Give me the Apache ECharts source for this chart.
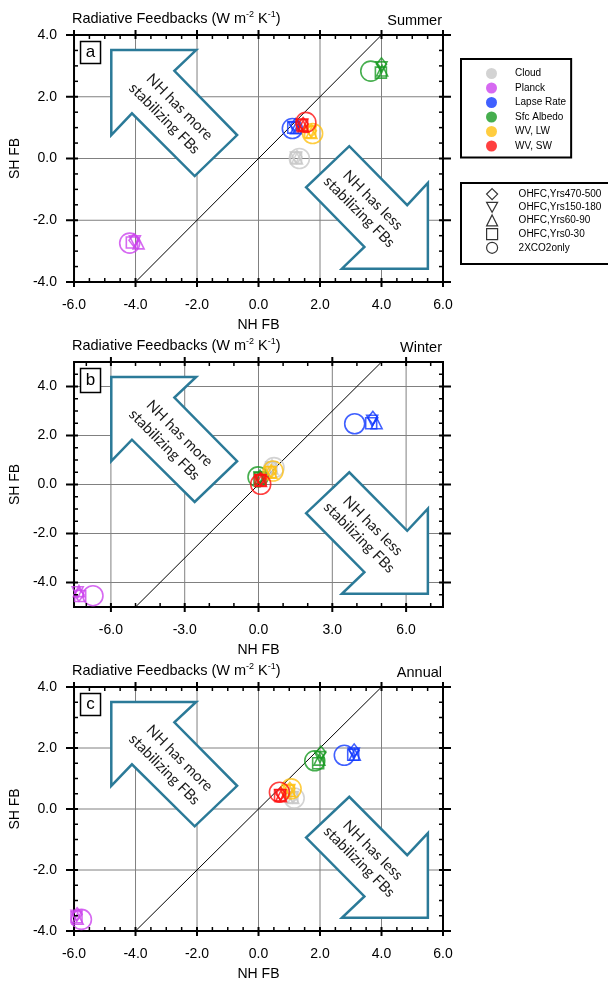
<!DOCTYPE html>
<html><head><meta charset="utf-8">
<script src="https://cdn.jsdelivr.net/npm/echarts@6/dist/echarts.min.js"></script>
<style>html,body{margin:0;padding:0;background:#fff}#c{width:608px;height:982px}</style>
</head><body><div id="c"></div>
<script>
// ---------- categories ----------
const feedbacks = ['Cloud', 'Planck', 'Lapse Rate', 'Sfc Albedo', 'WV, LW', 'WV, SW'];
const feedbackColors = ['#c8c8c8', '#cc44ee', '#1038ff', '#189a22', '#ffc010', '#ff1010'];
const experiments = ['OHFC,Yrs470-500', 'OHFC,Yrs150-180', 'OHFC,Yrs60-90', 'OHFC,Yrs0-30', '2XCO2only'];
const expSymbols = ['diamond', 'path://M0,0L10,0L5,9Z', 'triangle', 'rect', 'circle'];
const seasons = ['Summer', 'Winter', 'Annual'];
const panelLetters = ['a', 'b', 'c'];

// ---------- values: [NH FB, SH FB] per experiment (order as experiments) ----------
const summerCloud   = [[1.25, 0.05], [1.22, 0.03], [1.25, 0.00], [1.22, 0.02], [1.33, 0.00]];
const summerPlanck  = [[-4.05, -2.65], [-4.02, -2.68], [-3.90, -2.75], [-4.12, -2.72], [-4.19, -2.74]];
const summerLapse   = [[1.20, 1.08], [1.15, 1.02], [1.22, 0.98], [1.13, 1.00], [1.10, 0.97]];
const summerAlbedo  = [[4.00, 3.05], [4.00, 2.95], [4.02, 2.85], [3.98, 2.78], [3.65, 2.83]];
const summerWVLW    = [[1.72, 0.90], [1.70, 0.88], [1.72, 0.83], [1.68, 0.85], [1.76, 0.81]];
const summerWVSW    = [[1.45, 1.12], [1.42, 1.10], [1.45, 1.05], [1.42, 1.08], [1.54, 1.17]];

const winterCloud   = [[0.55, 0.74], [0.52, 0.70], [0.56, 0.66], [0.52, 0.68], [0.63, 0.69]];
const winterPlanck  = [[-7.30, -4.50], [-7.35, -4.40], [-7.30, -4.35], [-7.25, -4.55], [-6.73, -4.54]];
const winterLapse   = [[4.65, 2.72], [4.62, 2.60], [4.80, 2.50], [4.58, 2.50], [3.91, 2.48]];
const winterAlbedo  = [[0.06, 0.32], [0.05, 0.28], [0.07, 0.25], [0.04, 0.27], [-0.02, 0.31]];
const winterWVLW    = [[0.52, 0.55], [0.49, 0.51], [0.52, 0.48], [0.48, 0.50], [0.59, 0.55]];
const winterWVSW    = [[0.09, 0.22], [0.08, 0.18], [0.10, 0.15], [0.08, 0.17], [0.09, 0.01]];

const annualCloud   = [[1.13, 0.42], [1.11, 0.39], [1.13, 0.36], [1.10, 0.38], [1.16, 0.36]];
const annualPlanck  = [[-5.90, -3.45], [-5.92, -3.50], [-5.88, -3.60], [-5.92, -3.55], [-5.76, -3.62]];
const annualLapse   = [[3.11, 1.92], [3.10, 1.82], [3.13, 1.78], [3.08, 1.78], [2.79, 1.76]];
const annualAlbedo  = [[2.03, 1.85], [2.00, 1.70], [1.98, 1.62], [1.94, 1.50], [1.83, 1.58]];
const annualWVLW    = [[1.02, 0.66], [1.00, 0.62], [1.02, 0.58], [0.99, 0.60], [1.06, 0.66]];
const annualWVSW    = [[0.72, 0.50], [0.71, 0.46], [0.73, 0.42], [0.70, 0.45], [0.68, 0.55]];

// ---------- axes / tick labels ----------
const xTicksAC = [-6, -4, -2, 0, 2, 4, 6];
const yTicksAC = [-4, -2, 0, 2, 4];
const xTicksB = [-6, -3, 0, 3, 6];
const yTicksB = [-4, -2, 0, 2, 4];
const diagAC = [[-4, -4], [4, 4]];
const diagB = [[-5, -5], [5, 5]];

const panelData = [
  [summerCloud, summerPlanck, summerLapse, summerAlbedo, summerWVLW, summerWVSW],
  [winterCloud, winterPlanck, winterLapse, winterAlbedo, winterWVLW, winterWVSW],
  [annualCloud, annualPlanck, annualLapse, annualAlbedo, annualWVLW, annualWVSW]
];

// ---------- layout ----------
const FONT = 'Liberation Sans, Arial, sans-serif';
const ARROW_COLOR = '#2b7a98';
const panels = [
  { top: 35, height: 247, xmin: -6, xmax: 6, ymin: -4, ymax: 4, xInt: 2, yInt: 2, xMinor: 0.5, yMinor: 0.5, xTicks: xTicksAC, yTicks: yTicksAC, diag: diagAC, titleTop: 10, boxH: 22 },
  { top: 362, height: 245, xmin: -7.5, xmax: 7.5, ymin: -5, ymax: 5, xInt: 1.5, yInt: 1, xMinor: 1, yMinor: 0.5, xTicks: xTicksB, yTicks: yTicksB, diag: diagB, titleTop: 337, boxH: 24 },
  { top: 687, height: 246, xmin: -6, xmax: 6, ymin: -4, ymax: 4, xInt: 2, yInt: 2, xMinor: 0.5, yMinor: 0.5, xTicks: xTicksAC, yTicks: yTicksAC, diag: diagAC, titleTop: 662, boxH: 22 }
];
// arrow outlines in fractions of the plot area (x from left, y from top)
const arrowUL = [[0.101, 0.061], [0.331, 0.061], [0.272, 0.145], [0.442, 0.405], [0.327, 0.571], [0.157, 0.317], [0.101, 0.405]];
const arrowLR = [[0.959, 0.946], [0.959, 0.599], [0.903, 0.689], [0.746, 0.450], [0.629, 0.617], [0.787, 0.858], [0.726, 0.946]];
const arrowTexts = [
  { t: 'NH has more', f: [0.286, 0.291] }, { t: 'stabilizing FBs', f: [0.245, 0.338] },
  { t: 'NH has less', f: [0.810, 0.669] }, { t: 'stabilizing FBs', f: [0.773, 0.716] }
];

const isTick = (arr, v) => arr.some(t => Math.abs(t - v) < 1e-6);
function minorList(min, max, step, majors) {
  const out = [];
  for (let v = Math.ceil(min / step - 1e-9) * step; v <= max + 1e-9; v += step) {
    const r = Math.round(v * 1000) / 1000;
    if (r <= min + 1e-6 || r >= max - 1e-6) continue;
    if (isTick(majors, r)) continue;
    out.push(r);
  }
  return out;
}

const chart = echarts.init(document.getElementById('c'), null, { renderer: 'canvas' });
const grids = [], xAxes = [], yAxes = [], series = [], titles = [];

panels.forEach((p, i) => {
  grids.push({ left: 73, right: 165, top: p.top, height: p.height, show: true, borderColor: '#000', borderWidth: 2, backgroundColor: 'transparent' });
  xAxes.push({
    type: 'value', gridIndex: i, min: p.xmin, max: p.xmax, interval: p.xInt,
    name: 'NH FB', nameLocation: 'middle', nameGap: 36,
    nameTextStyle: { fontFamily: FONT, fontSize: 14, color: '#000' },
    axisLine: { show: false }, axisTick: { show: false }, splitLine: { show: false },
    axisLabel: { margin: 16, fontFamily: FONT, fontSize: 14, color: '#000', formatter: v => isTick(p.xTicks, v) ? v.toFixed(1) : '' }
  });
  yAxes.push({
    type: 'value', gridIndex: i, min: p.ymin, max: p.ymax, interval: p.yInt,
    name: 'SH FB', nameLocation: 'middle', nameGap: 47,
    nameTextStyle: { fontFamily: FONT, fontSize: 14, color: '#000' },
    axisLine: { show: false }, axisTick: { show: false }, splitLine: { show: false },
    axisLabel: { margin: 17, fontFamily: FONT, fontSize: 14, color: '#000', formatter: v => isTick(p.yTicks, v) ? v.toFixed(1) : '' }
  });
  titles.push({
    text: '{t|Radiative Feedbacks (W m}{s|-2}{t| K}{s|-1}{t|)}', left: 72, top: p.titleTop, padding: 0,
    textStyle: { rich: {
      t: { fontFamily: FONT, fontSize: 14.5, color: '#000', fontWeight: 'normal' },
      s: { fontFamily: FONT, fontSize: 9, color: '#000', fontWeight: 'normal', padding: [0, 0, 9, 0] }
    } }
  });
  titles.push({ text: seasons[i], right: 166, top: p.titleTop + 3, padding: 0, textStyle: { fontFamily: FONT, fontSize: 14.5, color: '#000', fontWeight: 'normal' } });

  // background decoration: grid lines, arrows, panel letter
  series.push({
    type: 'custom', xAxisIndex: i, yAxisIndex: i, z: 1, silent: true, clip: false, data: [[0, 0]],
    renderItem: (params, api) => {
      const ch = [];
      const P = (x, y) => api.coord([x, y]);
      const F = (fx, fy) => api.coord([p.xmin + fx * (p.xmax - p.xmin), p.ymax - fy * (p.ymax - p.ymin)]);
      p.xTicks.forEach(v => {
        if (v <= p.xmin || v >= p.xmax) return;
        const a = P(v, p.ymin), b = P(v, p.ymax);
        ch.push({ type: 'line', shape: { x1: a[0], y1: a[1], x2: b[0], y2: b[1] }, style: { stroke: '#808080', lineWidth: 1 } });
      });
      p.yTicks.forEach(v => {
        if (v <= p.ymin || v >= p.ymax) return;
        const a = P(p.xmin, v), b = P(p.xmax, v);
        ch.push({ type: 'line', shape: { x1: a[0], y1: a[1], x2: b[0], y2: b[1] }, style: { stroke: '#808080', lineWidth: 1 } });
      });
      [arrowUL, arrowLR].forEach(ar => {
        ch.push({ type: 'polygon', shape: { points: ar.map(q => F(q[0], q[1])) }, style: { fill: '#fff', stroke: ARROW_COLOR, lineWidth: 2.5, lineJoin: 'miter' } });
      });
      arrowTexts.forEach(o => {
        const c = F(o.f[0], o.f[1]);
        ch.push({ type: 'text', x: c[0], y: c[1], rotation: -Math.PI / 4,
          style: { text: o.t, fontFamily: 'Lato, Open Sans, sans-serif', fontSize: 15, fill: '#1a1a1a', align: 'center', verticalAlign: 'middle' } });
      });
      const tl = P(p.xmin, p.ymax);
      ch.push({ type: 'rect', shape: { x: tl[0] + 6.5, y: tl[1] + 6.5, width: 20, height: p.boxH }, style: { fill: '#fff', stroke: '#000', lineWidth: 1.5 } });
      ch.push({ type: 'text', x: tl[0] + 16.5, y: tl[1] + 6.5 + p.boxH / 2, style: { text: panelLetters[i], fontFamily: FONT, fontSize: 17, fill: '#000', align: 'center', verticalAlign: 'middle' } });
      return { type: 'group', children: ch };
    }
  });
  // 1:1 line
  series.push({ type: 'line', xAxisIndex: i, yAxisIndex: i, z: 3, silent: true, data: p.diag, symbol: 'none', lineStyle: { color: '#000', width: 1 } });
  // feedback markers
  panelData[i].forEach((vals, f) => {
    series.push({
      type: 'scatter', name: feedbacks[f], xAxisIndex: i, yAxisIndex: i, z: 4,
      data: vals.map((v, k) => ({ value: v, symbol: expSymbols[k], symbolSize: k === 4 ? 20 : (k === 0 ? [10, 13] : 11) })),
      itemStyle: { color: 'rgba(0,0,0,0)', borderColor: feedbackColors[f], borderWidth: 1.6 }
    });
  });
  // frame ticks
  series.push({
    type: 'custom', xAxisIndex: i, yAxisIndex: i, z: 10, silent: true, clip: false, data: [[0, 0]],
    renderItem: (params, api) => {
      const ch = [];
      const P = (x, y) => api.coord([x, y]);
      const L = (x1, y1, x2, y2, w) => ch.push({ type: 'line', shape: { x1, y1, x2, y2 }, style: { stroke: '#000', lineWidth: w } });
      p.xTicks.forEach(v => {
        const a = P(v, p.ymin), b = P(v, p.ymax);
        L(a[0], a[1] - 4, a[0], a[1] + 5, 2);
        L(b[0], b[1] - 5, b[0], b[1] + 4, 2);
      });
      p.yTicks.forEach(v => {
        const a = P(p.xmin, v), b = P(p.xmax, v);
        L(a[0] - 8, a[1], a[0] + 4, a[1], 2);
        L(b[0] - 4, b[1], b[0] + 8, b[1], 2);
      });
      minorList(p.xmin, p.xmax, p.xMinor, p.xTicks).forEach(v => {
        const a = P(v, p.ymin), b = P(v, p.ymax);
        L(a[0], a[1], a[0], a[1] - 4, 1.5);
        L(b[0], b[1], b[0], b[1] + 4, 1.5);
      });
      minorList(p.ymin, p.ymax, p.yMinor, p.yTicks).forEach(v => {
        const a = P(p.xmin, v), b = P(p.xmax, v);
        L(a[0], a[1], a[0] + 4, a[1], 1.5);
        L(b[0], b[1], b[0] - 4, b[1], 1.5);
      });
      return { type: 'group', children: ch };
    }
  });
});

// empty series so the experiment legend has entries
experiments.forEach(name => {
  series.push({ type: 'scatter', name, xAxisIndex: 0, yAxisIndex: 0, data: [] });
});

chart.setOption({
  animation: false,
  backgroundColor: '#fff',
  title: titles,
  grid: grids,
  xAxis: xAxes,
  yAxis: yAxes,
  legend: [
    {
      orient: 'vertical', left: 461, top: 59, padding: [9, 5, 6, 25],
      itemWidth: 11, itemHeight: 11, itemGap: 3.5, selectedMode: false,
      borderColor: '#000', borderWidth: 2,
      textStyle: { fontFamily: FONT, fontSize: 10, color: '#000', padding: [0, 0, 0, 13] },
      data: feedbacks.map((n, i) => ({ name: n, icon: 'circle', itemStyle: { color: feedbackColors[i], borderWidth: 0 } }))
    },
    {
      orient: 'vertical', left: 461, top: 183, padding: [5, 60, 10, 25],
      itemWidth: 11, itemHeight: 11, itemGap: 1.5, selectedMode: false,
      borderColor: '#000', borderWidth: 2,
      textStyle: { fontFamily: FONT, fontSize: 10, color: '#000', padding: [0, 0, 0, 16] },
      data: experiments.map((n, k) => ({ name: n, icon: expSymbols[k], itemStyle: { color: 'rgba(0,0,0,0)', borderColor: '#000', borderWidth: 1.2 } }))
    }
  ],
  series
});
</script></body></html>
